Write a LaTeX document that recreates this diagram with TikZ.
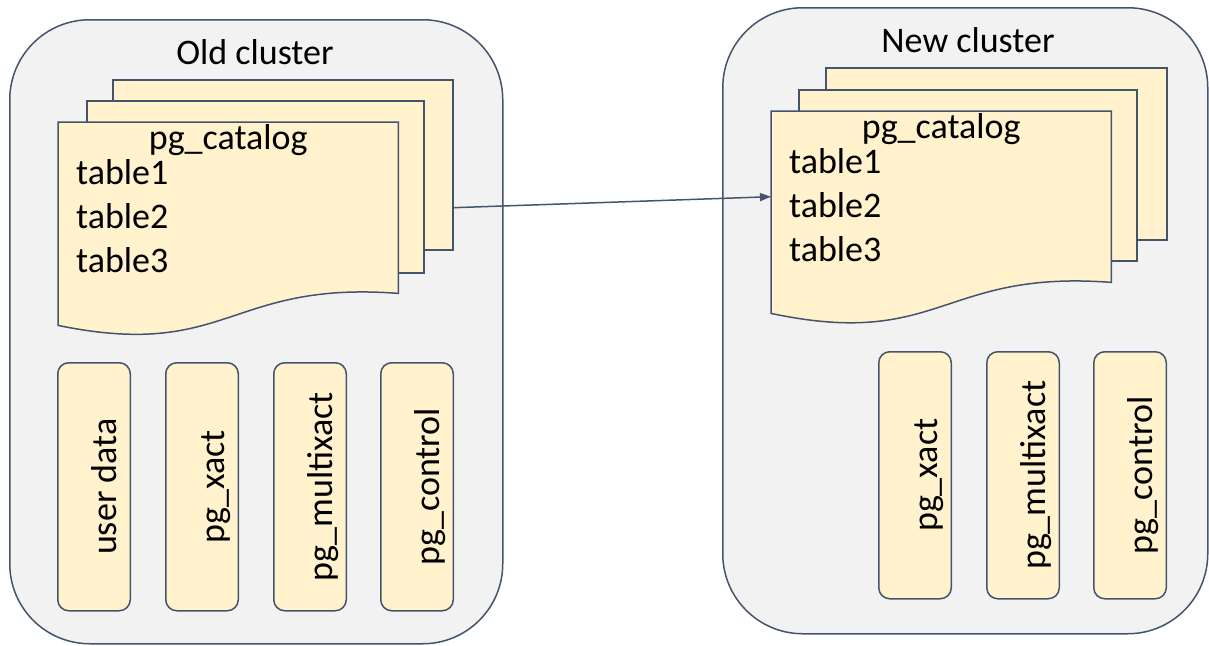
\documentclass[tikz,border=0pt]{standalone}
\usepackage{fontspec}
\setmainfont{Carlito}
\usetikzlibrary{arrows.meta,calc}
\definecolor{edgecol}{HTML}{44546A}
\definecolor{clusterfill}{HTML}{F2F2F2}
\definecolor{pagefill}{HTML}{FFF2CC}
\begin{document}
\begin{tikzpicture}[x=1pt,y=-1pt,
  cluster/.style={draw=edgecol, fill=clusterfill, line width=1.5pt, rounded corners=80pt, inner sep=0pt, anchor=north west},
  page/.style={draw=edgecol, fill=pagefill, line width=1.5pt, inner sep=0pt, anchor=north west},
  pagearea/.style={inner sep=0pt, anchor=north west, minimum width=340pt, minimum height=171pt},
  frontpage/.style={draw=edgecol, fill=pagefill, line width=1.5pt},
  slot/.style={draw=edgecol, fill=pagefill, line width=1.5pt, rounded corners=11pt, inner sep=0pt, anchor=north west, minimum width=72.5pt, minimum height=248pt},
  txt/.style={font=\fontsize{36}{43}\selectfont, inner sep=0pt, anchor=base},
  ltxt/.style={font=\fontsize{36}{43}\selectfont, inner sep=0pt, anchor=base west},
  vtxt/.style={font=\fontsize{36}{43}\selectfont, inner sep=0pt, anchor=base, rotate=90},
  link/.style={draw=edgecol, line width=1.5pt, -{Triangle[length=11pt,width=8pt]}}
]
\useasboundingbox (0,0) rectangle (1209,645);

% ---------- Old cluster ----------
\node[cluster, minimum width=493pt, minimum height=624pt] (oc) at (9,19) {};
\node[txt] (oct) at (255,64) {Old cluster};
\node[page, minimum width=340pt, minimum height=170pt] (ob) at (112,79) {};
\node[page, minimum width=337pt, minimum height=172pt] (om) at (86,100) {};
\node[pagearea] (of) at (58,122) {};
\draw[frontpage] (of.south east)
  .. controls ($(of.south)+(0,-13)$) and ($(of.south)+(0,67)$) .. ($(of.south west)+(0,32)$)
  -- (of.north west) -- (of.north east) -- cycle;
\node[txt] (ocat) at ($(of.north)+(0,27)$) {pg\_catalog};
\node[ltxt] (ot1) at ($(of.north west)+(18,62)$) {table1};
\node[ltxt] (ot2) at ($(of.north west)+(18,106)$) {table2};
\node[ltxt] (ot3) at ($(of.north west)+(18,150)$) {table3};

\node[slot] (os1) at (57,362) {};
\node[slot] (os2) at (165,362) {};
\node[slot] (os3) at (273,362) {};
\node[slot] (os4) at (380,362) {};
\node[vtxt] (ol1) at ($(os1.center)+(22,0)$) {user data};
\node[vtxt] (ol2) at ($(os2.center)+(22,0)$) {pg\_xact};
\node[vtxt] (ol3) at ($(os3.center)+(22,0)$) {pg\_multixact};
\node[vtxt] (ol4) at ($(os4.center)+(22,0)$) {pg\_control};

% ---------- New cluster ----------
\node[cluster, minimum width=485pt, minimum height=626pt] (nc) at (722,7) {};
\node[txt] (nct) at (968,52) {New cluster};
\node[page, minimum width=341pt, minimum height=172pt] (nb) at (825,67) {};
\node[page, minimum width=338pt, minimum height=171pt] (nm) at (798,89) {};
\node[pagearea] (nf) at (771,111) {};
\draw[frontpage] (nf.south east)
  .. controls ($(nf.south)+(0,-13)$) and ($(nf.south)+(0,67)$) .. ($(nf.south west)+(0,31)$)
  -- (nf.north west) -- (nf.north east) -- cycle;
\node[txt] (ncat) at ($(nf.north)+(0,27)$) {pg\_catalog};
\node[ltxt] (nt1) at ($(nf.north west)+(18,62)$) {table1};
\node[ltxt] (nt2) at ($(nf.north west)+(18,106)$) {table2};
\node[ltxt] (nt3) at ($(nf.north west)+(18,150)$) {table3};

\node[slot, minimum height=247pt] (ns1) at (878,351) {};
\node[slot, minimum height=247pt] (ns2) at (986,351) {};
\node[slot, minimum height=247pt] (ns3) at (1093,351) {};
\node[vtxt] (nl1) at ($(ns1.center)+(22,0)$) {pg\_xact};
\node[vtxt] (nl2) at ($(ns2.center)+(22,0)$) {pg\_multixact};
\node[vtxt] (nl3) at ($(ns3.center)+(22,0)$) {pg\_control};

% ---------- connector ----------
\draw[link] (of -| ob.east) -- (nf.west);
\end{tikzpicture}
\end{document}
